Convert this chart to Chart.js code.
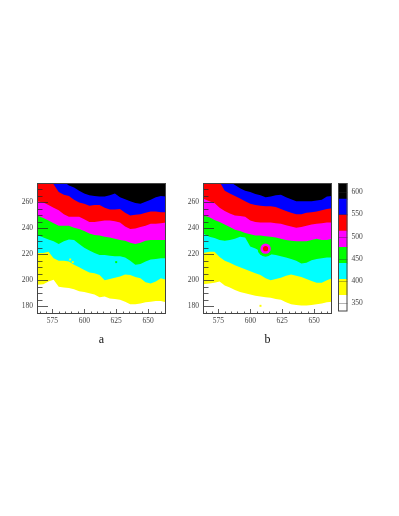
<!DOCTYPE html>
<html>
<head>
<meta charset="utf-8">
<script src="https://cdn.jsdelivr.net/npm/chart.js@4/dist/chart.umd.min.js"></script>
<style>
html,body{margin:0;padding:0;background:#fff;width:399px;height:516px;overflow:hidden}
canvas{position:absolute}
</style>
</head>
<body>
<canvas id="a" style="left:0;top:170px"></canvas>
<canvas id="b" style="left:166px;top:170px"></canvas>
<canvas id="c" style="left:330px;top:170px"></canvas>
<script>
// Shared sampling positions along x
const xs = [563,568,572,576,580,584,588,592,596,600,604,608,612,616,620,624,628,632,636,640,644,648,652,656,660,664];

// Panel a: lower edge of each colour band
const aYellow  = [196.5,197,199,200.5,195,194.5,194,193,191.5,191,190,189,187,187.5,186,185.5,185,183.5,181.5,181.5,182,183,183.5,184,184,183];
const aCyan    = [221,221,222,217,215,215,214.5,212,210,208,206,205.5,204,200,201,202,203,204.5,204,202.5,201.5,198.5,197.5,199,201.5,200.5];
const aGreen   = [235,233,231.5,230,228,230,231.5,231,228,225,223,221,219.5,219.5,219,218.5,218.5,217.5,215,212,212.5,214.5,216,216.5,217,217];
const aMagenta = [250,248,246,244,242,242,242,240.5,239.5,238,236,235,234.5,233.5,233,232,231,230.5,229,228,229,230.5,231,231,231,231];
const aRed     = [261,260,258,256,254,251,249,249,249,247,245,245,245.5,246,246,245.5,244.5,241.5,239.5,240,241,242,243.5,243.5,244,244.5];
const aBlue    = [276,276,276,274,268,266,265,262,260,259,257.5,258,258,256,254.5,254.5,255,252,250,250.5,251,252,253,253,252.5,252.5];
const aBlack   = [276,276,276,276,276,276,273,271.5,269,267,265.5,265,264.5,264.5,265.5,267,264,262.5,261,259.5,259,260.5,262,264,265,264.5];

// Panel b
const bYellow  = [197,197.5,198,199,196,194.5,192.5,191,190,189,188,187.5,187,186.5,185.5,185,183,181.5,181,180.5,180.5,181,181.5,182,183,183.5];
const bCyan    = [221,222,222,218,215,213.5,211.5,210,208.5,207,205.5,204,201.5,200,201,202,203.5,204.5,203.5,202.5,201,199.5,198,198,200,201.5];
const bGreen   = [236,233.5,232.5,231,230.5,231,232,233.5,233,226,224.5,222.5,220.5,220,219.5,218.5,217.5,216.5,215,213,213.5,215.5,216.5,217,217.5,217.5];
const bMagenta = [250,248.5,246.5,245,243,241,239,238,236.5,235.5,234.5,234.5,234,233.5,233,232,231,230.5,230,230,230,231,232,231,231,232];
const bRed     = [263,261,259.5,256,253.5,251.5,250,249.5,249,246,245,244.5,244.5,244.5,244,243.5,242.5,241.5,240.5,241,242,243,243.5,244,244.5,244.5];
const bBlue    = [276,276,276,276,269,267,265,263,261,259,258,257.5,257,257,256.5,255,253.5,252,251,251,252,252.5,253,254,255,255.5];
const bBlack   = [276,276,276,276,276,276,273.5,271,269,268,266.5,265.5,264,264.5,265.5,266,264,262.5,261,261,261,261,261.5,262,264.5,265];

// Isolated cells
const aYellowSpecksX = [589,591]; const aYellowSpecksY = [216,214];
const aWhiteSpecksX  = [598,603]; const aWhiteSpecksY  = [187,188];
const aGreenSpecksX  = [625];     const aGreenSpecksY  = [214];
const bYellowSpecksX = [608];     const bYellowSpecksY = [180.3];

// Bright spot in panel b
const spotX = [612]; const spotY = [224.4];

// Axes
const xMajor = [575,600,625,650];
const xMinor = [565,570,580,585,590,595,605,610,615,620,630,635,640,645,655,660];
const yMajor = [180,200,220,240,260];
const yMinor = [175,185,190,195,205,210,215,225,230,235,245,250,255,265,270];
const xLimits = [563,664];
const yLimits = [174,275];

// Colour scale
const levels = [332,368,404,440,476,512,548,584,620];
const barTicks = [350,400,450,500,550,600];
const bandColors = ['#ffffff','#ffff00','#00ffff','#00ff00','#ff00ff','#ff0000','#0000ff','#000000'];

const serif = 'Liberation Serif';
const inkColor = '#444444';

const pts = (X,Y) => X.map((x,i)=>({x,y:Y[i]}));

const innerTicks = {
  id:'innerTicks',
  afterDatasetsDraw(chart){
    const {ctx,chartArea:ca,scales:{x,y}} = chart;
    ctx.save();
    ctx.strokeStyle = 'rgba(40,40,40,0.75)'; ctx.lineWidth = 1;
    const seg=(a,b,c,d)=>{ctx.beginPath();ctx.moveTo(a,b);ctx.lineTo(c,d);ctx.stroke();};
    xMajor.forEach(v=>{const p=Math.round(x.getPixelForValue(v))+.5;seg(p,ca.bottom,p,ca.bottom-5);});
    xMinor.forEach(v=>{const p=Math.round(x.getPixelForValue(v))+.5;seg(p,ca.bottom,p,ca.bottom-2.5);});
    yMajor.forEach(v=>{const p=Math.round(y.getPixelForValue(v))+.5;seg(ca.left,p,ca.left+11,p);});
    yMinor.forEach(v=>{const p=Math.round(y.getPixelForValue(v))+.5;seg(ca.left,p,ca.left+5.5,p);});
    ctx.strokeStyle = inkColor;
    ctx.strokeRect(ca.left+.5,ca.top+.5,ca.right-ca.left-1,ca.bottom-ca.top-1);
    ctx.restore();
  }
};

function panel(id, width, leftSpace, label, edges, specks, spot){
  const el = document.getElementById(id);
  el.width = width; el.height = 180;
  const names = ['#ffff00','#00ffff','#00ff00','#ff00ff','#ff0000','#0000ff','#000000'];
  const datasets = [];
  specks.forEach(s=>datasets.push({type:'scatter',data:pts(s[0],s[1]),pointStyle:'rect',pointRadius:1.4,
    pointBackgroundColor:s[2],pointBorderWidth:0,order:0,clip:true}));
  if(spot){
    datasets.push({type:'scatter',data:pts(spotX,spotY),pointStyle:'circle',pointRadius:2.6,pointBackgroundColor:'#ff0000',pointBorderWidth:0,order:0});
    datasets.push({type:'scatter',data:pts(spotX,spotY),pointStyle:'circle',pointRadius:5.2,pointBackgroundColor:'#ff00ff',pointBorderWidth:0,order:1});
    datasets.push({type:'scatter',data:pts(spotX,spotY),pointStyle:'circle',pointRadius:8,pointBackgroundColor:'#00ff00',pointBorderWidth:0,order:2});
  }
  edges.forEach((e,i)=>datasets.push({type:'line',data:pts(xs,e),fill:'end',
    backgroundColor:names[i],borderWidth:0,pointRadius:0,order:20-i}));
  new Chart(el,{
    type:'scatter',
    data:{datasets},
    plugins:[innerTicks],
    options:{
      responsive:false,animation:false,
      layout:{padding:{top:13,right:width-(leftSpace+129),left:0,bottom:0}},
      plugins:{legend:{display:false},tooltip:{enabled:false}},
      scales:{
        x:{type:'linear',min:xLimits[0],max:xLimits[1],
          afterBuildTicks:s=>{s.ticks=xMajor.map(value=>({value}));},
          afterFit:s=>{s.height=36;},
          grid:{display:false,drawTicks:false},border:{display:false},
          ticks:{autoSkip:false,maxRotation:0,padding:3,color:inkColor,font:{family:serif,size:7.5}},
          title:{display:true,text:label,color:'#111',font:{family:serif,size:12},padding:{top:0,bottom:3}}},
        y:{type:'linear',min:yLimits[0],max:yLimits[1],
          afterBuildTicks:s=>{s.ticks=yMajor.map(value=>({value}));},
          afterFit:s=>{s.width=leftSpace;},
          grid:{display:false,drawTicks:false},border:{display:false},
          ticks:{autoSkip:false,padding:4,color:inkColor,font:{family:serif,size:7.5}}}
      }
    }
  });
}

panel('a',190,37,'a',[aYellow,aCyan,aGreen,aMagenta,aRed,aBlue,aBlack],
  [[aYellowSpecksX,aYellowSpecksY,'#ffff00'],[aWhiteSpecksX,aWhiteSpecksY,'#ffffff'],[aGreenSpecksX,aGreenSpecksY,'#00ff00']],false);
panel('b',190,37,'b',[bYellow,bCyan,bGreen,bMagenta,bRed,bBlue,bBlack],
  [[bYellowSpecksX,bYellowSpecksY,'#ffff00']],true);

// Colour bar
const cEl = document.getElementById('c');
cEl.width = 50; cEl.height = 150;
new Chart(cEl,{
  type:'bar',
  data:{labels:[''],datasets:bandColors.map((c,i)=>({
    data:[[levels[i],levels[i+1]]],backgroundColor:c,borderWidth:0,
    barPercentage:1,categoryPercentage:1,grouped:false}))},
  plugins:[{
    id:'barFrame',
    afterDatasetsDraw(chart){
      const {ctx,chartArea:ca,scales:{y}}=chart;
      ctx.save();ctx.lineWidth=1;
      ctx.strokeStyle='rgba(40,40,40,0.35)';
      barTicks.forEach(v=>{const p=Math.round(y.getPixelForValue(v))+.5;
        ctx.beginPath();ctx.moveTo(ca.right,p);ctx.lineTo(ca.left,p);ctx.stroke();});
      ctx.strokeStyle=inkColor;
      ctx.strokeRect(ca.left+.5,ca.top+.5,ca.right-ca.left-1,ca.bottom-ca.top-1);
      ctx.restore();
    }
  }],
  options:{
    responsive:false,animation:false,
    layout:{padding:{top:13,left:8,right:4,bottom:8}},
    plugins:{legend:{display:false},tooltip:{enabled:false}},
    scales:{
      x:{display:false},
      y:{position:'right',min:levels[0],max:levels[levels.length-1],
        afterBuildTicks:s=>{s.ticks=barTicks.map(value=>({value}));},
        afterFit:s=>{s.width=28.5;},
        grid:{display:false,drawTicks:false},border:{display:false},
        ticks:{padding:4,color:inkColor,font:{family:serif,size:7.5}}}
    }
  }
});
</script>
</body>
</html>
